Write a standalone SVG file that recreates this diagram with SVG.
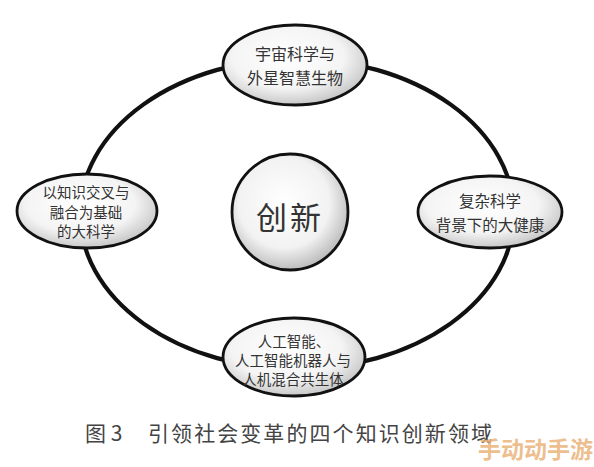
<svg xmlns="http://www.w3.org/2000/svg" width="594" height="467" viewBox="0 0 594 467">
<defs>
<radialGradient id="g" cx="0.45" cy="0.4" r="0.65">
<stop offset="0" stop-color="#ffffff"/>
<stop offset="0.6" stop-color="#f4f4f4"/>
<stop offset="1" stop-color="#bdbdbd"/>
</radialGradient>
<radialGradient id="gc" cx="0.45" cy="0.42" r="0.6">
<stop offset="0" stop-color="#ffffff"/>
<stop offset="0.65" stop-color="#f2f2f2"/>
<stop offset="1" stop-color="#b8b8b8"/>
</radialGradient>
</defs>
<style>
.n{fill:url(#g);stroke:#111;stroke-width:2.8}
.t{font-family:"Noto Sans CJK SC",sans-serif;fill:#333;text-anchor:middle;dominant-baseline:central}
.cap{font-family:"Noto Sans CJK SC",sans-serif;fill:#444;font-size:21px}
</style>
<rect width="594" height="467" fill="#fff"/>
<g id="connectors">
<ellipse cx="297" cy="214" rx="217" ry="155" fill="none" stroke="#111" stroke-width="4.2"/>
</g>
<g id="center">
<circle cx="290" cy="212" r="58" fill="url(#gc)" stroke="#111" stroke-width="2.8"/>
<text class="t" x="290" y="215" font-size="31" letter-spacing="3">创新</text>
</g>
<g id="top">
<ellipse class="n" cx="295" cy="65" rx="72" ry="40"/>
<text class="t" x="295" y="53" font-size="16">宇宙科学与</text>
<text class="t" x="295" y="77" font-size="16">外星智慧生物</text>
</g>
<g id="left">
<ellipse class="n" cx="87" cy="211" rx="70" ry="37"/>
<text class="t" x="86" y="191.5" font-size="14.5">以知识交叉与</text>
<text class="t" x="86" y="211" font-size="14.5">融合为基础</text>
<text class="t" x="86" y="230.5" font-size="14.5">的大科学</text>
</g>
<g id="right">
<ellipse class="n" cx="490" cy="212" rx="72" ry="36"/>
<text class="t" x="490" y="200" font-size="15.5">复杂科学</text>
<text class="t" x="490" y="223.5" font-size="15.5">背景下的大健康</text>
</g>
<g id="bottom">
<ellipse class="n" cx="294" cy="357" rx="71" ry="39"/>
<text class="t" x="294" y="340" font-size="14.5">人工智能、</text>
<text class="t" x="293" y="359" font-size="14.5">人工智能机器人与</text>
<text class="t" x="293" y="378" font-size="14.5">人机混合共生体</text>
</g>
<g id="caption">
<text class="cap" x="85" y="441">图 3</text>
<text class="cap" x="148" y="441" textLength="344">引领社会变革的四个知识创新领域</text>
<text x="478" y="458" font-family="Noto Sans CJK SC,sans-serif" font-weight="bold" font-size="23" fill="#eab27a" fill-opacity="0.85">手动动手游</text>
</g>
</svg>
